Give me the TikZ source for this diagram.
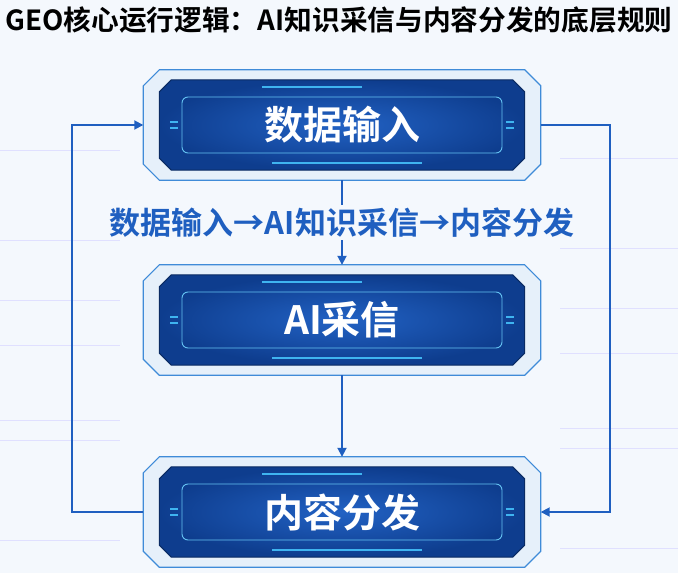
\documentclass[tikz,border=0pt]{standalone}
\usepackage{fontspec}
\setmainfont{Noto Sans CJK SC}
\newfontfamily\cjkb{Noto Sans CJK SC Bold}
\usetikzlibrary{arrows.meta}
\definecolor{bgc}{HTML}{F4F8FD}
\definecolor{frame}{HTML}{E6F0FA}
\definecolor{frameln}{HTML}{3F8BD8}
\definecolor{dark}{HTML}{0E3D8E}
\definecolor{mid}{HTML}{2262C4}
\definecolor{lite}{HTML}{3FB4F0}
\definecolor{lnc}{HTML}{1F5FC0}
\tikzset{
 x=1pt,y=-1pt,
 outerbox/.style={rectangle,minimum width=397pt,minimum height=110pt,inner sep=0pt},
 innerbox/.style={rectangle,minimum width=365pt,minimum height=90pt,text=white,font=\cjkb\fontsize{39}{44}\selectfont,inner sep=0pt},
 rimbox/.style={rounded corners=6pt,draw=lite!80,line width=0.9pt},
 conn/.style={draw=lnc,line width=1.8pt,-{Triangle[length=9pt,width=9pt]}},
 faint/.style={draw=blue!12,line width=0.8pt}
}
\begin{document}
\begin{tikzpicture}
\fill[bgc] (0,0) rectangle (678,573);
\useasboundingbox (0,0) rectangle (678,573);
\foreach \yy in {150,240,300,345,420,440,540}{\draw[faint] (0,\yy) -- (120,\yy); \draw[faint] (560,\yy+8) -- (678,\yy+8);}
\node[font=\cjkb,anchor=center] (title) at (339,20) {\resizebox{667pt}{!}{GEO核心运行逻辑：AI知识采信与内容分发的底层规则}};
\foreach \n/\yc/\t in {a/125/数据输入, b/320/AI采信, c/512/内容分发}{
 \node[outerbox] (\n o) at (342,\yc) {};
 \filldraw[fill=frame,draw=frameln,line width=1.2pt]
  ([xshift=16pt]\n o.north west) -- ([xshift=-16pt]\n o.north east) -- ([yshift=-16pt]\n o.north east) -- ([yshift=16pt]\n o.south east) -- ([xshift=-16pt]\n o.south east) -- ([xshift=16pt]\n o.south west) -- ([yshift=16pt]\n o.south west) -- ([yshift=-16pt]\n o.north west) -- cycle;
 \node[innerbox] (\n) at (342,\yc) {};
 \shade[inner color=mid,outer color=dark]
  ([xshift=12pt]\n.north west) -- ([xshift=-12pt]\n.north east) -- ([yshift=-12pt]\n.north east) -- ([yshift=12pt]\n.south east) -- ([xshift=-12pt]\n.south east) -- ([xshift=12pt]\n.south west) -- ([yshift=12pt]\n.south west) -- ([yshift=-12pt]\n.north west) -- cycle;
 \draw[dark!70!black,line width=1pt]
  ([xshift=12pt]\n.north west) -- ([xshift=-12pt]\n.north east) -- ([yshift=-12pt]\n.north east) -- ([yshift=12pt]\n.south east) -- ([xshift=-12pt]\n.south east) -- ([xshift=12pt]\n.south west) -- ([yshift=12pt]\n.south west) -- ([yshift=-12pt]\n.north west) -- cycle;
 \node[innerbox] at (\n.center) {\t};
 \draw[rimbox] ([xshift=-160pt,yshift=28pt]\n.center) rectangle ([xshift=160pt,yshift=-28pt]\n.center);
 \draw[lite,line width=2pt] ([xshift=-70pt,yshift=-38pt]\n.center) -- ([xshift=80pt,yshift=-38pt]\n.center);
 \draw[lite,line width=2pt] ([xshift=-80pt,yshift=38pt]\n.center) -- ([xshift=20pt,yshift=38pt]\n.center);
 \foreach \s in {-1,1}{\draw[lite,line width=1.5pt] ([xshift=\s*172pt,yshift=-3pt]\n.center) -- ([xshift=\s*164pt,yshift=-3pt]\n.center);
 \draw[lite,line width=1.5pt] ([xshift=\s*172pt,yshift=3pt]\n.center) -- ([xshift=\s*164pt,yshift=3pt]\n.center);}
}
\path[conn] (ao.south) -- (bo.north) node[midway,fill=bgc,text=lnc,font=\cjkb\fontsize{31}{35}\selectfont,inner sep=3pt] (lbl) {数据输入→AI知识采信→内容分发};
\path[conn] (bo.south) -- (co.north);
\coordinate (l1) at (72,512); \coordinate (l2) at (72,125);
\coordinate (r1) at (610,125); \coordinate (r2) at (610,512);
\draw[conn] (co.west) -- (l1) -- (l2) -- (ao.west);
\draw[conn] (ao.east) -- (r1) -- (r2) -- (co.east);
\end{tikzpicture}
\end{document}
